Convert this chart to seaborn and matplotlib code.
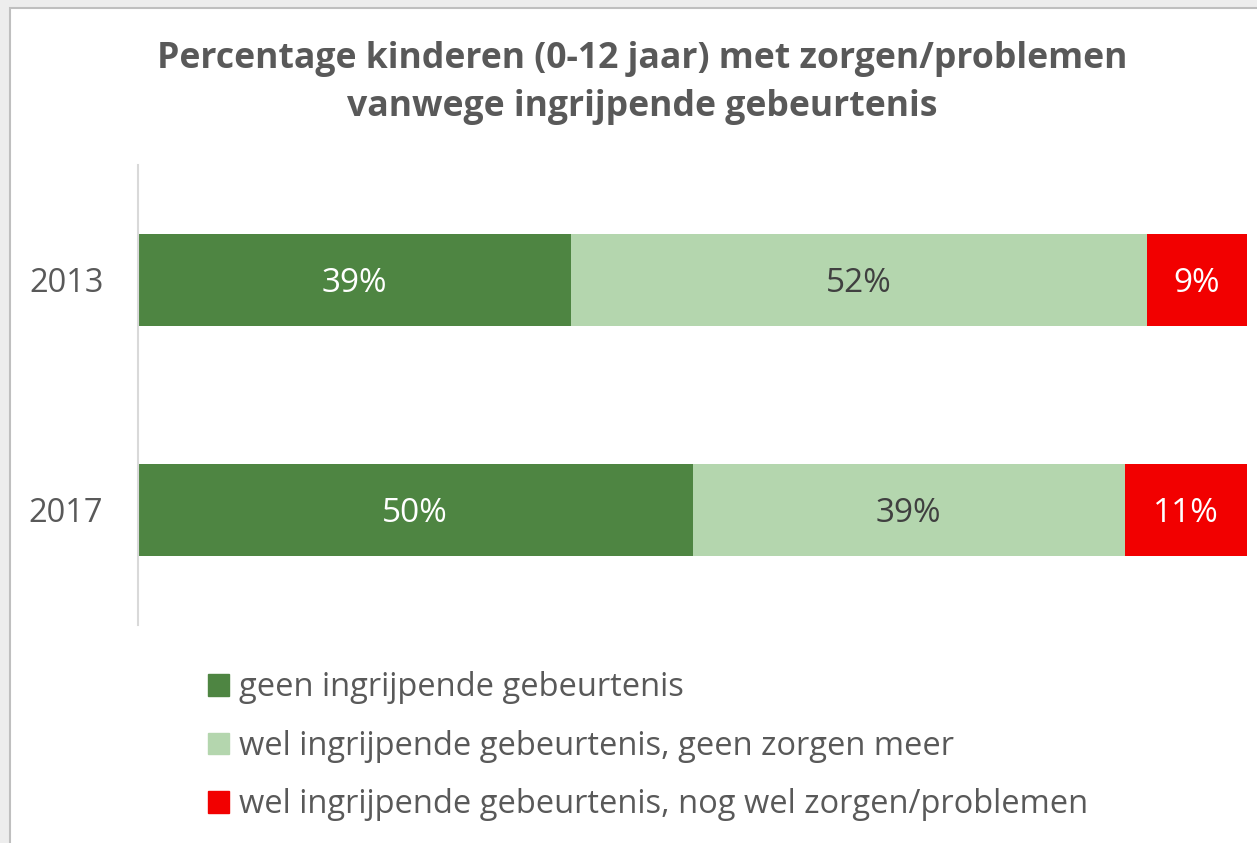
import matplotlib

matplotlib.use("Agg")
import matplotlib.pyplot as plt
import matplotlib.patches as mpatches
import numpy as np
import pandas as pd
import seaborn as sns

# -------------------------
# Data
# -------------------------
years = ["2013", "2017"]
categories = [
    "geen ingrijpende gebeurtenis",
    "wel ingrijpende gebeurtenis, geen zorgen meer",
    "wel ingrijpende gebeurtenis, nog wel zorgen/problemen",
]
geen = [39, 50]
wel_geen_zorgen = [52, 39]
wel_zorgen = [9, 11]
colors = ["#4E8542", "#B4D6AE", "#F20000"]
label_colors = ["white", "#404040", "white"]

title = "Percentage kinderen (0-12 jaar) met zorgen/problemen\nvanwege ingrijpende gebeurtenis"

# -------------------------
# Setup
# -------------------------
sns.set_theme(style="white")
plt.rcParams["font.family"] = ["Open Sans", "DejaVu Sans"]
text_grey = "#595959"

values = np.array([geen, wel_geen_zorgen, wel_zorgen])  # (category, year)
cum = values.cumsum(axis=0)

fig = plt.figure(figsize=(12.57, 8.43), dpi=100, facecolor="#EDEDED")

# white chart area with thin grey frame (cropped screenshot look)
W, H = 1257, 843
frame = mpatches.Rectangle((10 / W, -0.1), 1.2, 1 - 8 / H + 0.1,
                           transform=fig.transFigure, facecolor="white",
                           edgecolor="#BFBFBF", linewidth=1.5, zorder=-10)
fig.patches.append(frame)

ax = fig.add_axes([138 / W, 1 - 625 / H, (1247 - 138) / W, (625 - 165) / H])
ax.set_facecolor("none")
ax.set_zorder(5)

# -------------------------
# Stacked bars (draw cumulative totals, largest first)
# -------------------------
for i in reversed(range(len(categories))):
    df = pd.DataFrame({"year": years, "value": cum[i]})
    sns.barplot(data=df, x="value", y="year", orient="h", color=colors[i],
                width=0.4, saturation=1, ax=ax, linewidth=0)

# value labels
for j, yr in enumerate(years):
    for i in range(len(categories)):
        start = cum[i, j] - values[i, j]
        ax.text(start + values[i, j] / 2, j, f"{values[i, j]}%",
                ha="center", va="center_baseline", fontsize=24,
                color=label_colors[i])

ax.set_xlim(0, 100)
ax.set_ylim(1.5, -0.5)
ax.set_xlabel("")
ax.set_ylabel("")
ax.set_xticks([])
ax.tick_params(axis="y", length=0, pad=25, labelsize=23.5, labelcolor=text_grey)
for s in ["top", "right", "bottom"]:
    ax.spines[s].set_visible(False)
ax.spines["left"].set_color("#D9D9D9")
ax.spines["left"].set_linewidth(1.5)

# -------------------------
# Title
# -------------------------
fig.text(0.511, 1 - 83 / H, title, ha="center", va="center", fontsize=25.7,
         fontweight="bold", color=text_grey, linespacing=1.45)

# -------------------------
# Legend
# -------------------------
handles = [mpatches.Patch(color=c, label=l) for c, l in zip(colors, categories)]
fig.legend(handles=handles, loc="upper left", bbox_to_anchor=(192 / W, 1 - 655 / H),
           frameon=False, fontsize=23.5, labelcolor=text_grey,
           handlelength=0.64, handleheight=0.64, handletextpad=0.3,
           labelspacing=0.78, borderpad=0)

fig.savefig("out.png", dpi=100, facecolor=fig.get_facecolor())
